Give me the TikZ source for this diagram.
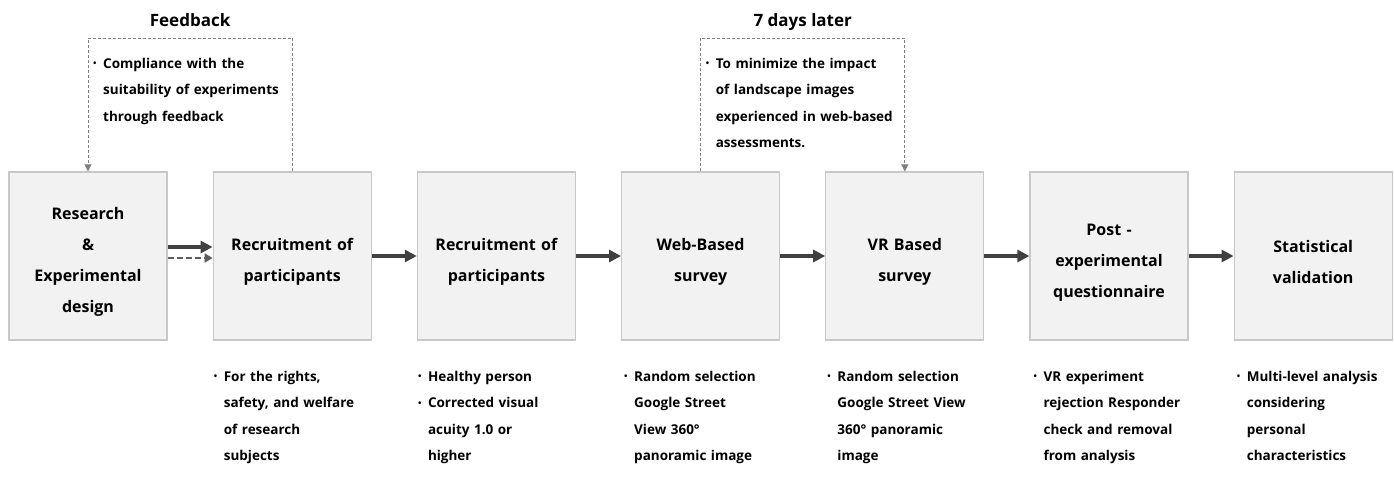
\documentclass[tikz,border=0pt]{standalone}
\usepackage{fontspec}
\setmainfont{Open Sans}
\usetikzlibrary{positioning,arrows.meta}
\definecolor{boxfill}{HTML}{F2F2F2}
\definecolor{boxline}{HTML}{C8C8C8}
\definecolor{flowarrow}{HTML}{404040}
\definecolor{loopgray}{HTML}{7F7F7F}
\newcommand{\bpoint}[1]{\makebox[10pt][l]{\raisebox{1.5pt}{\fontsize{9}{9}\selectfont\textbullet}}\parbox[t]{240pt}{\hyphenpenalty=10000 #1}}

\begin{document}
\begin{tikzpicture}[x=1pt, y=-1pt, >={Triangle[length=12pt,width=12pt]}, node distance=45pt,
    stage/.style={draw=boxline, line width=1.2pt, fill=boxfill, minimum width=158pt, minimum height=168pt, text width=150pt, align=center, font=\bfseries\fontsize{16}{31}\selectfont, execute at begin node=\rule{0pt}{24pt}},
    note/.style={anchor=north west, inner sep=0pt, text width=250pt, font=\bfseries\fontsize{13.5}{26.5}\selectfont},
    flow/.style={->, line width=4pt, flowarrow},
    loopline/.style={loopgray, line width=1pt, dash pattern=on 3pt off 2pt, -{Triangle[length=7pt,width=7pt]}},
    looptitle/.style={anchor=base, yshift=12pt, text=black, font=\bfseries\fontsize{17}{20}\selectfont}]
        \useasboundingbox (0,0) rectangle (1394,480);

        % Stages
        \node[stage] (design) at (88,256) {Research\\ \&\\ Experimental\\ design};
        \node[stage, right=of design] (irb) {Recruitment of\\ participants};
        \node[stage, right=of irb] (recruit) {Recruitment of\\ participants};
        \node[stage, right=of recruit] (web) {Web-Based\\ survey};
        \node[stage, right=of web] (vr) {VR Based\\ survey};
        \node[stage, right=of vr] (post) {Post -\\ experimental\\ questionnaire};
        \node[stage, right=of post] (stats) {Statistical\\ validation};

        % Flow between stages
        \draw[flow] ([yshift=9pt]design.east) -- ([yshift=9pt]irb.west);
        \draw[flowarrow!85, line width=2pt, dash pattern=on 6pt off 3pt, -{Triangle[length=8pt,width=9pt]}] ([yshift=-2pt]design.east) -- ([yshift=-2pt]irb.west);
        \draw[flow] (irb) -- (recruit);
        \draw[flow] (recruit) -- (web);
        \draw[flow] (web) -- (vr);
        \draw[flow] (vr) -- (post);
        \draw[flow] (post) -- (stats);

        % Feedback loop
        \coordinate (ytop) at (0,38);
        \coordinate (fbcorner) at (design.north |- ytop);
        \draw[loopline] (irb.north) -- (irb.north |- ytop) -| node[looptitle, pos=0.25] {Feedback} (design.north);
        \node[note] (fbtext) at ([xshift=5pt,yshift=-20pt]fbcorner) {\bpoint{Compliance with the\\ suitability of experiments\\ through feedback}};

        % 7 days later loop
        \coordinate (wkcorner) at (web.north |- ytop);
        \draw[loopline] (web.north) -- (wkcorner) -| node[looptitle, pos=0.25] {7 days later} (vr.north);
        \node[note] (wktext) at ([xshift=5pt,yshift=-20pt]wkcorner) {\bpoint{To minimize the impact\\ of landscape images\\ experienced in web-based\\ assessments.}};

        % Notes under stages
        \node[note] (irbnote) at ([xshift=1pt,yshift=-30pt]irb.south west) {\bpoint{For the rights,\\ safety, and welfare\\ of research\\ subjects}};
        \node[note] (recruitnote) at ([xshift=1pt,yshift=-30pt]recruit.south west) {\bpoint{Healthy person}\par\bpoint{Corrected visual\\ acuity 1.0 or\\ higher}};
        \node[note] (webnote) at ([xshift=3pt,yshift=-30pt]web.south west) {\bpoint{Random selection\\ Google Street\\ View 360°\\ panoramic image}};
        \node[note] (vrnote) at ([xshift=2pt,yshift=-30pt]vr.south west) {\bpoint{Random selection\\ Google Street View\\ 360° panoramic\\ image}};
        \node[note] (postnote) at ([xshift=4pt,yshift=-30pt]post.south west) {\bpoint{VR experiment\\ rejection Responder\\ check and removal\\ from analysis}};
        \node[note] (statsnote) at ([xshift=3pt,yshift=-30pt]stats.south west) {\bpoint{Multi-level analysis\\ considering\\ personal\\ characteristics}};
    \end{tikzpicture}
\end{document}
